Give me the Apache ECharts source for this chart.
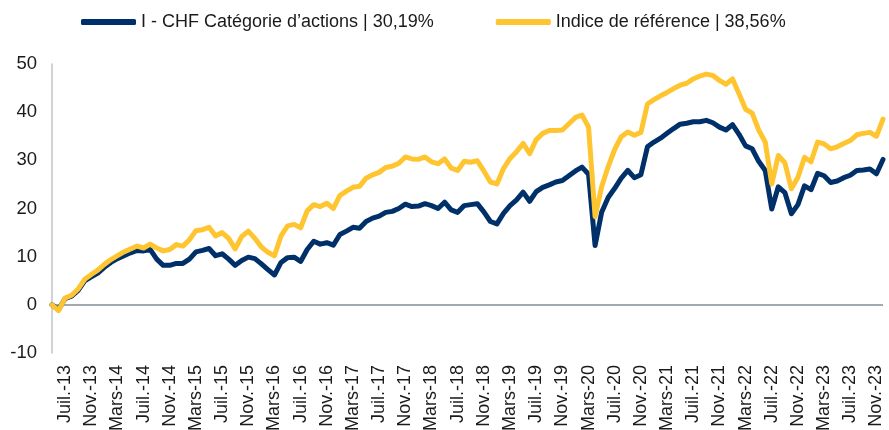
<!DOCTYPE html>
<html>
<head>
<meta charset="utf-8">
<script src="https://cdn.jsdelivr.net/npm/echarts@6/dist/echarts.min.js"></script>
<style>
	html, body { margin:0; padding:0; background:#fff; }
	#chart { width:889px; height:430px; }
</style>
</head>
<body>
<div id="chart"></div>
<script type="text/javascript">
// mois (mai 2013 - déc. 2023), étiquettes affichées tous les 4 mois à partir de juil.-13
var monthNames = ['Janv.','Févr.','Mars','Avr.','Mai','Juin','Juil.','Août','Sept.','Oct.','Nov.','Déc.'];
var startYear = 2013, startMonth = 4, nbMonths = 128;

var fundName = 'I - CHF Catégorie d\u2019actions | 30,19%';
var indexName = 'Indice de référence | 38,56%';

var fundValues = [
	0, -1, 1.3, 1.8, 3, 5, 5.8, 6.6, 7.8, 8.8,
	9.6, 10.2, 10.8, 11.3, 11.2, 11.5, 9.5, 8.2, 8.2, 8.6,
	8.6, 9.5, 11, 11.3, 11.7, 10.2, 10.6, 9.5, 8.2, 9.2,
	9.9, 9.6, 8.5, 7.3, 6.2, 8.8, 9.8, 9.9, 9, 11.5,
	13.2, 12.6, 12.9, 12.4, 14.6, 15.3, 16.1, 15.9, 17.3, 18,
	18.4, 19.2, 19.4, 20, 20.9, 20.4, 20.5, 21, 20.6, 20,
	21.3, 19.7, 19.2, 20.6, 20.8, 21, 19.3, 17.3, 16.8, 19,
	20.6, 21.8, 23.4, 21.5, 23.5, 24.4, 24.9, 25.5, 25.8, 26.8,
	27.8, 28.6, 27.1, 12.3, 19.2, 22.3, 24.2, 26.3, 27.9, 26.4,
	27, 32.8, 33.8, 34.6, 35.6, 36.6, 37.5, 37.7, 38, 38,
	38.3, 37.8, 36.9, 36.3, 37.4, 35.4, 33, 32.4, 29.8, 27.9,
	19.9, 24.5, 23.3, 18.9, 20.8, 24.7, 23.9, 27.3, 26.8, 25.4,
	25.7, 26.4, 26.9, 27.9, 28, 28.2, 27.2, 30.19
];

var indexValues = [
	0, -1.2, 1.4, 2, 3.3, 5.3, 6.3, 7.2, 8.4, 9.4,
	10.2, 11, 11.6, 12.2, 11.8, 12.6, 11.8, 11.2, 11.5, 12.5,
	12.2, 13.5, 15.4, 15.6, 16.1, 14.3, 15, 13.8, 11.6, 14.2,
	15.3, 13.8, 12, 10.9, 10.2, 14.3, 16.4, 16.7, 16, 19.5,
	20.8, 20.4, 21.1, 20, 22.7, 23.6, 24.4, 24.6, 26.3, 27,
	27.5, 28.5, 28.8, 29.4, 30.7, 30.3, 30.2, 30.7, 29.7, 29.3,
	30.3, 28.4, 27.9, 29.8, 29.6, 29.9, 27.8, 25.5, 25.1, 28.3,
	30.4, 31.8, 33.5, 31.4, 34.3, 35.6, 36.2, 36.2, 36.3, 37.6,
	38.9, 39.4, 36.9, 18.3, 24.5, 28.7, 32.3, 34.9, 35.9, 35.2,
	35.8, 41.7, 42.6, 43.4, 44.1, 44.9, 45.6, 46, 46.9, 47.5,
	47.9, 47.6, 46.6, 45.8, 46.9, 43.8, 40.6, 39.8, 36.3, 33.8,
	25.1, 31, 29.5, 24.1, 26.5, 30.6, 29.7, 33.8, 33.4, 32.4,
	32.8, 33.5, 34.1, 35.3, 35.6, 35.8, 35, 38.56
];

var categories = [];
for (var i=0;i<nbMonths;i++){
	var m = (startMonth + i) % 12;
	var y = startYear + Math.floor((startMonth + i) / 12);
	categories.push(monthNames[m] + '-' + String(y).substring(2));
}

var chart = echarts.init(document.getElementById('chart'));
var textFont = 'Liberation Sans, Arial, sans-serif';
var option = {
	animation: false,
	textStyle: { fontFamily: textFont },
	legend: {
		left: 76,
		top: 8,
		itemWidth: 55,
		itemHeight: 6,
		itemGap: 62,
		icon: 'roundRect',
		textStyle: { fontSize: 18, color: '#1a1a1a', fontFamily: textFont },
		data: [fundName, indexName]
	},
	grid: { left: 52, right: 6, top: 64, bottom: 77, containLabel: false, outerBoundsMode: 'none' },
	xAxis: {
		type: 'category',
		boundaryGap: false,
		data: categories,
		axisLine: { show: false, onZero: false },
		axisTick: { show: false },
		splitLine: { show: false },
		axisLabel: {
			rotate: 90,
			margin: 12,
			fontSize: 18,
			color: '#1a1a1a',
			fontFamily: textFont,
			interval: function(index){ return (index - 2) % 4 === 0; }
		}
	},
	yAxis: {
		type: 'value',
		min: -10,
		max: 50,
		interval: 10,
		axisLine: { show: true, lineStyle: { color: '#c0c4c8', width: 1.5 } },
		axisTick: { show: false },
		splitLine: { show: false },
		axisLabel: { fontSize: 18.5, color: '#1a1a1a', margin: 15, fontFamily: textFont }
	},
	series: [
		{
			name: fundName,
			type: 'line',
			data: fundValues,
			showSymbol: false,
			symbol: 'none',
			color: '#00306a',
			lineStyle: { width: 5, color: '#00306a', join: 'round', cap: 'round' },
			markLine: {
				silent: true,
				symbol: ['none','none'],
				label: { show: false },
				lineStyle: { color: '#a3a9b0', width: 2, type: 'solid' },
				data: [{ yAxis: 0 }],
				z: 1
			},
			z: 2
		},
		{
			name: indexName,
			type: 'line',
			data: indexValues,
			showSymbol: false,
			symbol: 'none',
			color: '#ffc530',
			lineStyle: { width: 5, color: '#ffc530', join: 'round', cap: 'round' },
			z: 3
		}
	]
};
chart.setOption(option);
</script>
</body>
</html>
